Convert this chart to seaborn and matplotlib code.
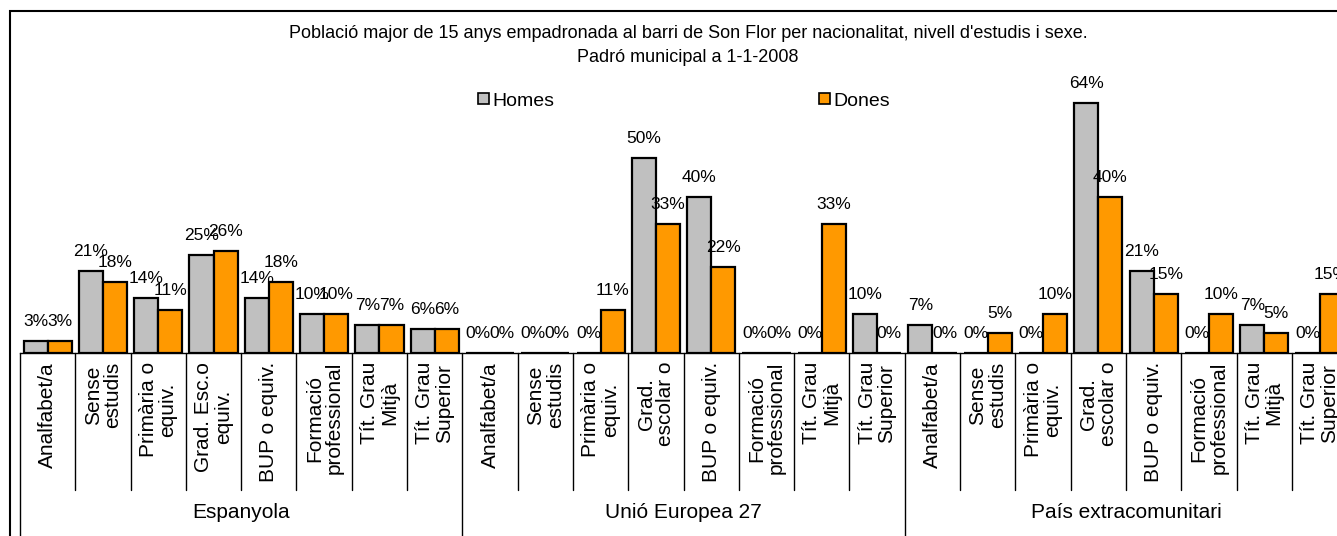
import pandas as pd
import matplotlib.pyplot as plt
import matplotlib.patches as mpatches
import seaborn as sns

sns.set_style("white")
plt.rcParams['font.family'] = ['Liberation Sans', 'DejaVu Sans']
plt.rcParams['text.color'] = 'black'

# Data (percentages)
groups = ['Espanyola', 'Unió Europea 27', 'País extracomunitari']
levels_esp = ['Analfabet/a', 'Sense\nestudis', 'Primària o\nequiv.', 'Grad. Esc.o\nequiv.',
              'BUP o equiv.', 'Formació\nprofessional', 'Tít. Grau\nMitjà', 'Tít. Grau\nSuperior']
levels_other = ['Analfabet/a', 'Sense\nestudis', 'Primària o\nequiv.', 'Grad.\nescolar o',
                'BUP o equiv.', 'Formació\nprofessional', 'Tít. Grau\nMitjà', 'Tít. Grau\nSuperior']

homes_esp = [3, 21, 14, 25, 14, 10, 7, 6]
dones_esp = [3, 18, 11, 26, 18, 10, 7, 6]
homes_ue = [0, 0, 0, 50, 40, 0, 0, 10]
dones_ue = [0, 0, 11, 33, 22, 0, 33, 0]
homes_ext = [7, 0, 0, 64, 21, 0, 7, 0]
dones_ext = [0, 5, 10, 40, 15, 10, 5, 15]

homes = homes_esp + homes_ue + homes_ext
dones = dones_esp + dones_ue + dones_ext
levels = [levels_esp, levels_other, levels_other]

keys = []
rows = []
i = 0
for g, lv in zip(groups, levels):
    for j, name in enumerate(lv):
        k = f"{g}|{j}"
        keys.append(k)
        rows.append({'key': k, 'sexe': 'Homes', 'pct': homes[i]})
        rows.append({'key': k, 'sexe': 'Dones', 'pct': dones[i]})
        i += 1
df = pd.DataFrame(rows)

W, H = 1337, 536
fig = plt.figure(figsize=(W / 100, H / 100), dpi=100)

# axes: baseline at y=352.5 px, 24 categories of ~55.3 px starting at x=20
cat_w = 55.3
ymax = 70
px_per_pct = 3.9
ax_h = ymax * px_per_pct
ax = fig.add_axes([20 / W, (H - 352.5) / H, 24 * cat_w / W, ax_h / H])

sns.barplot(data=df, x='key', y='pct', hue='sexe', order=keys, hue_order=['Homes', 'Dones'],
            palette=['#C0C0C0', '#FF9900'], saturation=1, width=0.87,
            edgecolor='black', linewidth=1.6, legend=False, ax=ax)

ax.set_xlim(-0.5, 23.5)
ax.set_ylim(0, ymax)
ax.set_xlabel('')
ax.set_ylabel('')
ax.set_xticks([])
ax.set_yticks([])
for s in ['top', 'right', 'left']:
    ax.spines[s].set_visible(False)
ax.spines['bottom'].set_linewidth(1.0)
ax.spines['bottom'].set_color('black')

# data labels
for cont, vals in zip(ax.containers, [homes, dones]):
    ax.bar_label(cont, labels=[f"{v}%" for v in vals], padding=8.5, fontsize=12.5, color='black')

# category labels and separators
trans = ax.get_xaxis_transform()
sep_low = -(490 - 352.5) / ax_h
grp_low = -(560 - 352.5) / ax_h
idx = 0
for gi, (g, lv) in enumerate(zip(groups, levels)):
    for name in lv:
        ax.text(idx, -(362 - 352.5) / ax_h, name, rotation=90, ha='center', va='top',
                multialignment='center', fontsize=15, linespacing=1.05, transform=trans)
        if idx % 8 != 0:
            ax.plot([idx - 0.5, idx - 0.5], [0, sep_low], color='black', lw=1.0,
                    transform=trans, clip_on=False)
        idx += 1
    ax.plot([gi * 8 - 0.5, gi * 8 - 0.5], [0, grp_low], color='black', lw=1.0,
            transform=trans, clip_on=False)
    ax.text(gi * 8 + 3.5, -(512 - 352.5) / ax_h, g, ha='center', va='center',
            fontsize=15, transform=trans)

# title
fig.text(688 / W, (H - 33) / H, "Població major de 15 anys empadronada al barri de Son Flor per nacionalitat, nivell d'estudis i sexe.",
         ha='center', va='center', fontsize=13)
fig.text(688 / W, (H - 57) / H, "Padró municipal a 1-1-2008", ha='center', va='center', fontsize=13)

# legend
handles = [mpatches.Patch(facecolor='#C0C0C0', edgecolor='black', lw=1.2, label='Homes'),
           mpatches.Patch(facecolor='#FF9900', edgecolor='black', lw=1.2, label='Dones')]
fig.legend(handles=handles, ncol=2, frameon=False, loc='center', bbox_to_anchor=(684 / W, (H - 101) / H),
           handlelength=0.55, handleheight=0.55, handletextpad=0.2, columnspacing=13.6, fontsize=14)

# chart frame
frame = mpatches.Rectangle((10 / W, -0.1), 1.2, (H - 11) / H + 0.1, transform=fig.transFigure,
                           fill=False, edgecolor='black', lw=1.5)
fig.patches.append(frame)

fig.savefig('out.png', dpi=100)
